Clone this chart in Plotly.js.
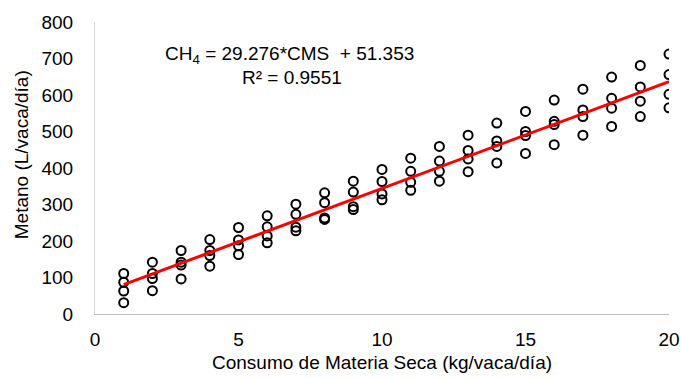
<!DOCTYPE html>
<html><head><meta charset="utf-8">
<script src="https://cdn.plot.ly/plotly-3.0.1.min.js"></script>
<style>html,body{margin:0;padding:0;background:#fff}#c{width:682px;height:378px}</style>
</head><body><div id="c"></div>
<script>
const cms = [1,1,1,1, 2,2,2,2, 3,3,3,3, 4,4,4,4, 5,5,5,5, 6,6,6,6, 7,7,7,7, 8,8,8,8, 9,9,9,9, 10,10,10,10,
             11,11,11,11, 12,12,12,12, 13,13,13,13, 14,14,14,14, 15,15,15,15, 16,16,16,16, 17,17,17,17, 18,18,18,18, 19,19,19,19, 20,20,20,20];
const metano = [111,87,63,31, 142,111,97,64, 174,142,134,96, 204,174,160,131, 237,203,187,163, 269,239,214,195,
                301,273,238,228, 332,305,263,259, 364,334,294,286, 396,363,329,313, 427,391,361,339, 459,419,391,364,
                490,448,425,390, 523,474,459,414, 555,500,489,440, 586,528,519,464, 616,559,541,490, 649,591,564,514,
                681,622,583,541, 712,656,602,565];
const slope = 29.276, intercept = 51.353;
const fitX = [1, 20];
const fitY = fitX.map(x => slope * x + intercept);
const xTicks = [0,5,10,15,20];
const yTicks = [0,100,200,300,400,500,600,700,800];

const font = {family: 'Liberation Sans, Arial, sans-serif', size: 19, color: '#000'};
const px = v => (v - 95) / 574, py = v => (313.5 - v) / 291.5;
Plotly.newPlot('c', [
  {x: cms, y: metano, type: 'scatter', mode: 'markers',
   marker: {symbol: 'circle-open', size: 9, color: '#000', line: {width: 2, color: '#000'}}},
  {x: fitX, y: fitY, type: 'scatter', mode: 'lines', line: {color: '#ff0000', width: 3}}
], {
  width: 682, height: 378, showlegend: false,
  paper_bgcolor: '#fff', plot_bgcolor: '#fff',
  margin: {l: 95, r: 13, t: 22, b: 64},
  font: font,
  xaxis: {range: [0, 20], tickvals: xTicks, showgrid: false, zeroline: false,
          showline: true, linecolor: '#bfbfbf', linewidth: 1, ticks: '', ticklabelstandoff: 8,
          tickfont: font,
          title: {text: 'Consumo de Materia Seca (kg/vaca/día)', font: font, standoff: 6}},
  yaxis: {range: [0, 800], tickvals: yTicks, showgrid: false, zeroline: false,
          showline: true, linecolor: '#d9d9d9', linewidth: 1, ticks: '', ticklabelstandoff: 17,
          tickfont: font},
  annotations: [
    {xref: 'paper', yref: 'paper', x: px(21), y: py(155), text: 'Metano (L/vaca/día)', textangle: -90,
     showarrow: false, font: font, xanchor: 'center', yanchor: 'middle'},
    {xref: 'paper', yref: 'paper', x: px(289), y: py(55), text: 'CH<sub>4</sub> = 29.276*CMS  + 51.353',
     showarrow: false, font: font, xanchor: 'center', yanchor: 'middle'},
    {xref: 'paper', yref: 'paper', x: px(292), y: py(77), text: 'R² = 0.9551',
     showarrow: false, font: font, xanchor: 'center', yanchor: 'middle'}
  ]
}, {displayModeBar: false, staticPlot: true});
</script></body></html>
